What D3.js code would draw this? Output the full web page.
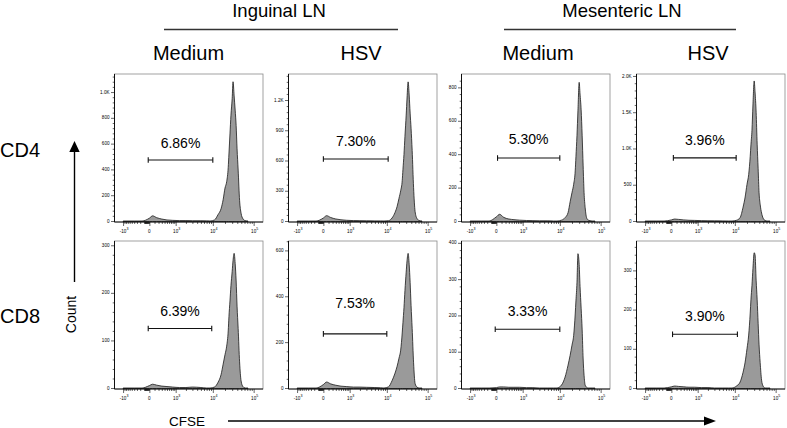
<!DOCTYPE html>
<html><head><meta charset="utf-8">
<script src="https://cdn.jsdelivr.net/npm/d3@7"></script>
<style>body{margin:0;background:#fff}svg{display:block}text{font-family:"Liberation Sans",Arial,Helvetica,sans-serif;fill:#000}</style>
</head><body><svg id="c" width="787" height="428"></svg>
<script>
// ---------------- DATA ----------------
const tissues = ["Inguinal LN", "Mesenteric LN"];
const conditions = ["Medium", "HSV", "Medium", "HSV"];
const cellTypes = ["CD4", "CD8"];
const xAxisTitle = "CFSE";
const yAxisTitle = "Count";

// CFSE bin centres (shared by all histograms)
const cfseBins = [-1000,-400,-150,0,60,150,300,500,800,1300,2000,3000,5000,7000,
  8500,11000,13500,16000,18000,20000,22000,24000,25000,26500,28000,30000,31500,33500,35500,37500,39500,42000,45500,49500,55000,62000,73000];

// event counts per bin, one array per panel
const cd4InguinalMedium = [0,0,0,22,40,26,15,8,5,3,3,2,2,1,
  0,8,50,95,165,255,305,415,520,675,820,950,1080,970,860,740,560,395,160,60,17,3,0];
const cd4InguinalHSV = [0,0,0,30,53,35,20,12,7,4,3,2,1,1,
  0,3,30,85,145,225,300,400,510,660,840,1050,1220,1380,1250,1070,920,700,330,95,25,5,0];
const cd4MesentericMedium = [0,0,0,25,40,22,12,8,5,3,2,1,1,0,
  0,5,20,50,115,170,220,300,385,510,660,830,760,666,510,330,170,80,20,6,2,0,0];
const cd4MesentericHSV = [0,0,0,15,27,22,15,10,8,5,3,2,1,0,
  0,10,46,190,330,505,640,890,1050,1250,1600,1931,1780,1500,1060,720,390,230,110,40,8,0,0];
const cd8InguinalMedium = [0,0,0,5,8,6,4,3,2,1,1,2,1,0,
  0,2,12,28,50,70,88,120,150,183,215,245,268,283,262,225,172,125,55,15,3,0,0];
const cd8InguinalHSV = [0,0,0,15,26,18,12,8,6,4,4,3,2,1,
  0,5,32,65,95,130,165,240,285,350,425,505,555,587,540,460,360,260,110,20,4,0,0];
const cd8MesentericMedium = [0,0,0,1,3,3,2,2,2,1,1,0,0,0,
  0,8,30,63,90,118,145,204,240,290,370,340,280,220,160,80,35,8,2,0,0,0,0];
const cd8MesentericHSV = [0,0,0,3,5,4,3,2,2,1,1,0,0,0,
  0,5,15,40,66,100,135,191,225,262,305,345,340,275,225,165,110,65,20,5,0,0,0];

const gatePercents = ["6.86%","7.30%","5.30%","3.96%","6.39%","7.53%","3.33%","3.90%"];
const gateRanges = [[-20,10000],[0,10800],[20,10000],[35,10800],[-20,9400],[0,10000],[-20,10000],[20,11600]];
const gateLevels = [473,615,377,870,125,236,162,137];
const labelLevels = [607,793,489,1112,162,372,212,183];

const yMaxes = [1140,1458,880,2027,309,641,405,375];
const yTicks = [[0,200,400,600,800,1000],[0,300,600,900,1200],[0,200,400,600,800],[0,500,1000,1500,2000],
                [0,100,200,300],[0,200,400,600],[0,100,200,300,400],[0,100,200,300]];
const xMajorTicks = [-1000,0,1000,10000,100000];
const xTickBase = ["-10","0","10","10","10"];
const xTickExp = ["3","","3","4","5"];
const xDomain = [-1796,168600];

// ---------------- DRAW ----------------
const series = [cd4InguinalMedium, cd4InguinalHSV, cd4MesentericMedium, cd4MesentericHSV,
                cd8InguinalMedium, cd8InguinalHSV, cd8MesentericMedium, cd8MesentericHSV];
const svg = d3.select("#c");
const colLeft = [114.5, 288.5, 461.5, 636.5];
const plotW = 148.5;
const rowTop = [74, 241];
const rowAxis = [222, 389];

// minor x ticks
const xMinor = [];
for (let v = -900; v <= -200; v += 100) xMinor.push(v);
for (let v = -100; v <= -10; v += 10) xMinor.push(v);
for (let v = 100; v <= 900; v += 100) xMinor.push(v);
for (let v = 2000; v <= 9000; v += 1000) xMinor.push(v);
for (let v = 20000; v <= 90000; v += 10000) xMinor.push(v);

const fmtY = v => v >= 1000 ? (v/1000).toFixed(1) + "K" : String(v);

series.forEach((vals, i) => {
  const r = Math.floor(i / 4), c = i % 4;
  const L = colLeft[c], T = rowTop[r], B = rowAxis[r];
  const g = svg.append("g");
  const x = d3.scaleSymlog().constant(300).domain(xDomain).range([L, L + plotW]);
  const y = d3.scaleLinear().domain([0, yMaxes[i]]).range([B - 1, T]);

  const clipId = "clip" + i;
  g.append("clipPath").attr("id", clipId).append("rect")
    .attr("x", L).attr("y", T).attr("width", plotW).attr("height", B - T);

  // frame
  g.append("rect").attr("x", L).attr("y", T).attr("width", plotW).attr("height", B - T)
    .attr("fill", "none").attr("stroke", "#8a8a8a").attr("stroke-width", 0.8);

  // histogram
  const pts = cfseBins.map((b, k) => [b, vals[k]]);
  const area = d3.area().x(d => x(d[0])).y0(B - 0.5).y1(d => y(d[1])).curve(d3.curveMonotoneX);
  g.append("path").datum(pts).attr("d", area).attr("clip-path", `url(#${clipId})`)
    .attr("fill", "#9a9a9a").attr("stroke", "#1a1a1a").attr("stroke-width", 0.8).attr("stroke-linejoin", "round");

  // x axis
  const xa = g.append("g").attr("transform", `translate(0,${B})`);
  xa.call(d3.axisBottom(x).tickValues(xMajorTicks).tickSize(4).tickFormat(""));
  xa.append("g").call(d3.axisBottom(x).tickValues(xMinor).tickSize(2).tickFormat(""));
  xa.selectAll(".domain").remove();
  xa.selectAll("line").attr("stroke", "#000").attr("stroke-width", 0.6);
  g.append("line").attr("x1", L).attr("x2", L + plotW).attr("y1", B).attr("y2", B)
    .attr("stroke", "#000").attr("stroke-width", 0.9);
  xMajorTicks.forEach((t, k) => {
    const tx = g.append("text").attr("x", x(t) + (xTickExp[k] ? 1 : 0)).attr("y", B + 10.5)
      .attr("text-anchor", "middle").attr("font-size", 4.6).attr("fill", "#222");
    tx.append("tspan").text(xTickBase[k]);
    if (xTickExp[k]) tx.append("tspan").attr("dy", -2.2).attr("font-size", 3.6).text(xTickExp[k]);
  });

  // y axis
  const yt = yTicks[i];
  const step = yt[1] - yt[0];
  const yMinor = d3.range(step / 5, yMaxes[i], step / 5).filter(v => !yt.some(t => Math.abs(t - v) < 1e-6));
  const ya = g.append("g").attr("transform", `translate(${L},0)`);
  ya.call(d3.axisLeft(y).tickValues(yt).tickSize(3.5).tickFormat(""));
  ya.append("g").call(d3.axisLeft(y).tickValues(yMinor).tickSize(1.8).tickFormat(""));
  ya.selectAll(".domain").remove();
  ya.selectAll("line").attr("stroke", "#000").attr("stroke-width", 0.6);
  g.append("line").attr("x1", L).attr("x2", L).attr("y1", T).attr("y2", B)
    .attr("stroke", "#000").attr("stroke-width", 0.9);
  yt.forEach(t => {
    g.append("text").attr("x", L - 5).attr("y", y(t)).attr("dy", "0.35em")
      .attr("text-anchor", "end").attr("font-size", 4.6).attr("fill", "#222").text(fmtY(t));
  });

  // gate
  const gx0 = x(gateRanges[i][0]), gx1 = x(gateRanges[i][1]), gy = y(gateLevels[i]);
  g.append("line").attr("x1", gx0).attr("x2", gx1).attr("y1", gy).attr("y2", gy).attr("stroke", "#111").attr("stroke-width", 1.1);
  [gx0, gx1].forEach(gxx => g.append("line").attr("x1", gxx).attr("x2", gxx).attr("y1", gy - 2.8).attr("y2", gy + 2.8)
    .attr("stroke", "#111").attr("stroke-width", 1.1));
  g.append("text").attr("x", (gx0 + gx1) / 2).attr("y", y(labelLevels[i])).attr("dy", "0.36em")
    .attr("text-anchor", "middle").attr("font-size", 14).text(gatePercents[i]);
});

// headers
const tissueCenters = [279, 622];
const tissueLines = [[164, 398], [504, 736]];
tissues.forEach((t, k) => {
  svg.append("text").attr("x", tissueCenters[k]).attr("y", 17).attr("text-anchor", "middle")
    .attr("font-size", 18.5).text(t);
  svg.append("line").attr("x1", tissueLines[k][0]).attr("x2", tissueLines[k][1]).attr("y1", 29.5).attr("y2", 29.5)
    .attr("stroke", "#333").attr("stroke-width", 1.4);
});
const condCenters = [188.5, 361, 538, 708];
conditions.forEach((t, k) => {
  svg.append("text").attr("x", condCenters[k]).attr("y", 60).attr("text-anchor", "middle")
    .attr("font-size", 20).text(t);
});
const cellBaselines = [157, 323];
cellTypes.forEach((t, k) => {
  svg.append("text").attr("x", 0).attr("y", cellBaselines[k]).attr("font-size", 20).text(t);
});

// Count arrow
svg.append("line").attr("x1", 74.5).attr("x2", 74.5).attr("y1", 282).attr("y2", 150).attr("stroke", "#000").attr("stroke-width", 1.4);
svg.append("path").attr("d", "M74.5,141 L69.3,152 L79.7,152 Z").attr("fill", "#000");
svg.append("text").attr("transform", "translate(76,314.5) rotate(-90)").attr("text-anchor", "middle")
  .attr("font-size", 14).text(yAxisTitle);

// CFSE arrow
svg.append("text").attr("x", 187).attr("y", 426).attr("text-anchor", "middle").attr("font-size", 13.5).text(xAxisTitle);
svg.append("line").attr("x1", 228).attr("x2", 705).attr("y1", 421).attr("y2", 421).attr("stroke", "#000").attr("stroke-width", 1.4);
svg.append("path").attr("d", "M716,421 L704,416.5 L704,425.5 Z").attr("fill", "#000");
</script></body></html>
